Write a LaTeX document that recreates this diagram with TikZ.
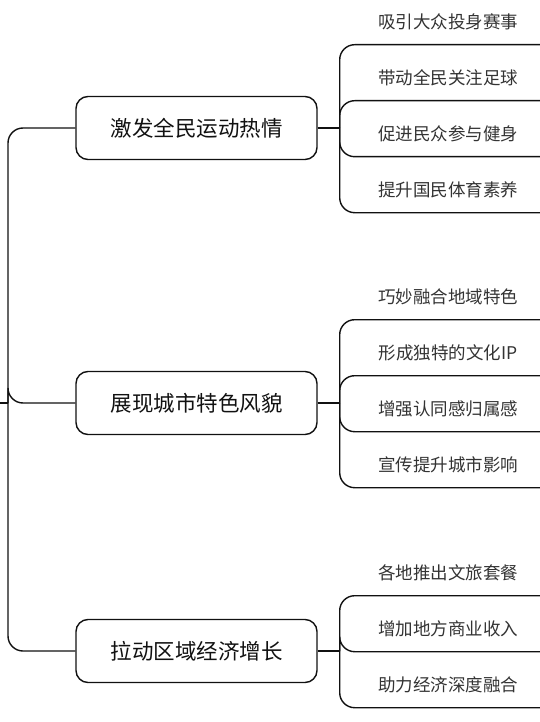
\documentclass[tikz,border=0pt]{standalone}
\usepackage{fontspec}
\newfontfamily\cjk{Noto Sans CJK SC}
\usetikzlibrary{positioning,calc}
\definecolor{ink}{RGB}{17,17,17}
\definecolor{leafink}{RGB}{51,51,51}

\begin{document}
\begin{tikzpicture}[x=1pt,y=-1pt,line width=1.4pt,
    topic/.style={draw=ink,rounded corners=12pt,minimum width=241pt,minimum height=63pt,
      font=\cjk\fontsize{21.5}{24}\selectfont,text=ink},
    leaf/.style={minimum width=184pt,minimum height=44pt,inner sep=0pt,
      font=\cjk\fontsize{17.5}{20}\selectfont,text=leafink},
    link/.style={draw=ink,rounded corners=15pt}]
  \useasboundingbox (0,0) rectangle (540,722);
  % root sits at the left edge
  \coordinate (root) at (0,403);
  \coordinate (rj) at (8,403);
  \node[topic] (b1) at (196.5,128) {激发全民运动热情};
  \node[topic] (b2) at (196.5,403) {展现城市特色风貌};
  \node[topic] (b3) at (196.5,651) {拉动区域经济增长};
  \draw[link] (root) -- (rj);
  \foreach \b in {b1,b2,b3} \draw[link] (rj) |- (\b.west);
  % branch stubs
  \foreach \b in {b1,b2,b3}{
    \path (\b.east) -- ++(22,0) coordinate (j\b);
    \draw[link] (\b.east) -- (j\b);
  }
  % leaves
  \foreach \t [count=\i from 0] in {吸引大众投身赛事,带动全民关注足球,促进民众参与健身,提升国民体育素养}{
    \node[leaf] (la\i) at (448,{128+(\i-1.5)*56-22}) {\t};
    \draw[link] (jb1) |- (la\i.south east);
  }
  \foreach \t [count=\i from 0] in {巧妙融合地域特色,形成独特的文化IP,增强认同感归属感,宣传提升城市影响}{
    \node[leaf] (lb\i) at (448,{403+(\i-1.5)*56-22}) {\t};
    \draw[link] (jb2) |- (lb\i.south east);
  }
  \foreach \t [count=\i from 0] in {各地推出文旅套餐,增加地方商业收入,助力经济深度融合}{
    \node[leaf] (lc\i) at (448,{651+(\i-1)*56-22}) {\t};
    \draw[link] (jb3) |- (lc\i.south east);
  }
\end{tikzpicture}
\end{document}
